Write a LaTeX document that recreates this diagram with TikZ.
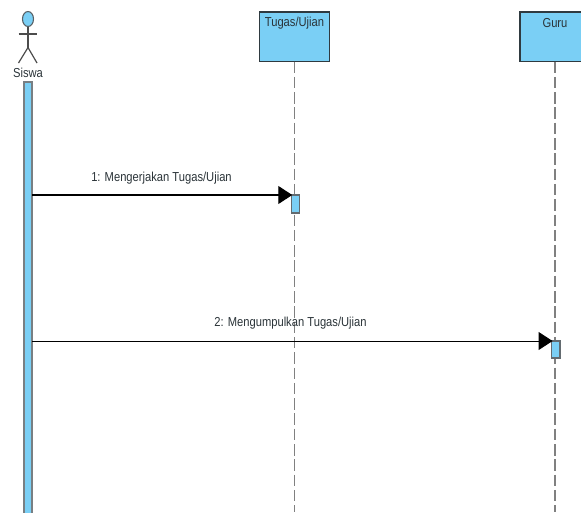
\documentclass[tikz,border=0pt]{standalone}
\usepackage{fontspec}
\setmainfont[FakeStretch=0.86]{Liberation Sans}
\usetikzlibrary{arrows.meta,shapes.geometric}
\definecolor{umlblue}{HTML}{7ACFF5}
\definecolor{umlline}{HTML}{2F3A40}
\definecolor{umltext}{HTML}{2A3338}
\tikzset{
  x=1pt,y=-1pt,
  lifebox/.style={draw=umlline,fill=umlblue,line width=1.3pt,minimum width=70pt,minimum height=49.5pt,inner sep=0pt,outer sep=0pt},
  actbar/.style={draw=umlline!75,fill=umlblue,line width=1.4pt,inner sep=0pt,outer sep=0pt},
  lifeline/.style={draw=black!50,line width=1.7pt,dash pattern=on 11.5pt off 3.8pt},
  message/.style={draw=black,-{Triangle[length=14pt,width=18pt]},shorten >=-1pt},
  caption/.style={text=umltext,font=\fontsize{13}{15}\selectfont,inner sep=0pt},
  stick/.style={draw=black!70,line width=1.2pt}
}
\begin{document}
\begin{tikzpicture}
\useasboundingbox (0,0) rectangle (581,512);
\clip (0,0) rectangle (581,512);
\node[lifebox] (tugas) at (294.5,36.75) {};
\node[lifebox] (guru) at (555,36.75) {};
\node[caption] (tugaslabel) at (294.5,23) {Tugas/Ujian};
\node[caption] (gurulabel) at (555,23) {Guru};
\coordinate (tugasend) at (294.5,512);
\coordinate (guruend) at (555,512);
\draw[lifeline] (tugas.south) -- (tugasend);
\draw[lifeline] (guru.south) -- (guruend);
% actor
\node[draw=umlline!80,fill=umlblue,line width=1.1pt,ellipse,minimum width=11pt,minimum height=15pt,inner sep=0pt,outer sep=0pt] (head) at (28,19) {};
\coordinate (hip) at (28,47.5);
\coordinate (armL) at (18.5,34);
\coordinate (armR) at (37,34);
\coordinate (legL) at (18.5,63);
\coordinate (legR) at (37,63);
\draw[stick] (head.south) -- (hip);
\draw[stick] (armL) -- (armR);
\draw[stick] (legL) -- (hip) -- (legR);
\node[caption] (siswa) at (28,73) {Siswa};
% activations
\node[actbar,draw=umlline!65,minimum width=8pt,minimum height=440pt] (bar) at (28,302) {};
\node[actbar,minimum width=8.5pt,minimum height=18pt] (act1) at (295.5,204) {};
\node[actbar,minimum width=8.5pt,minimum height=17pt] (act2) at (555.8,349.5) {};
% messages
\draw[message,line width=1.2pt] (bar.east |- act1.north) -- (act1.north west);
\draw[message,line width=0.9pt] (bar.east |- act2.north) -- (act2.north west);
\node[caption] (m1) at (161.5,178) {1: Mengerjakan Tugas/Ujian};
\node[caption] (m2) at (290.5,323) {2: Mengumpulkan Tugas/Ujian};
\end{tikzpicture}
\end{document}
